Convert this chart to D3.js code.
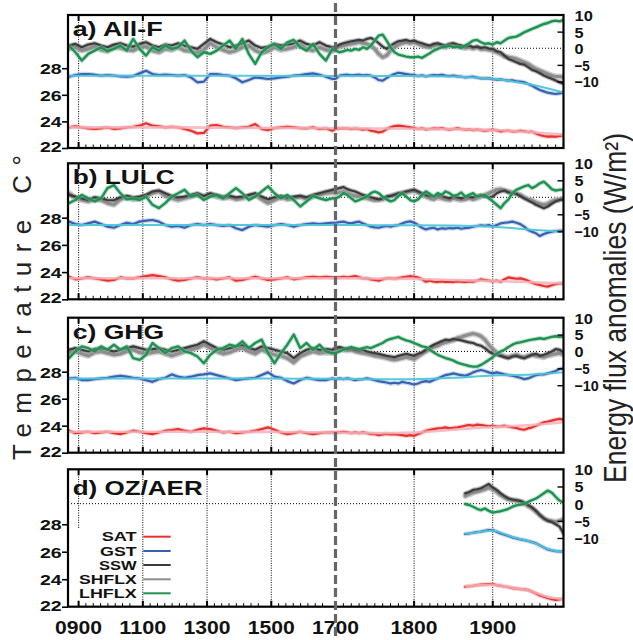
<!DOCTYPE html>
<html><head><meta charset="utf-8">
<script src="https://cdn.jsdelivr.net/npm/d3@7"></script>
<style>body{margin:0;background:#fff}svg{display:block}text{font-family:"Liberation Sans",Arial,Helvetica,sans-serif}</style>
</head><body>
<svg id="chart" width="633" height="640"></svg>
<script>
// ---------------- DATA ----------------
const yearsEarly = d3.range(870, 1700, 20);   // 870..1690
const yearsLate = d3.range(1700, 1995, 5);    // 1700..1990
const yearsFull = yearsEarly.concat(yearsLate);
const yearsOz = d3.range(1865, 1995, 5);      // 1865..1990
const smoothYears = [870, 1000, 1200, 1400, 1600, 1700, 1750, 1800, 1850, 1900, 1950, 1990];
const smoothYearsOz = [1865, 1885, 1900, 1915, 1930, 1950, 1970, 1990];

const panelLabels = ["a) All-F", "b) LULC", "c) GHG", "d) OZ/AER"];
const legendNames = ["SAT", "GST", "SSW", "SHFLX", "LHFLX"];
const xTickYears = [900, 1100, 1300, 1500, 1700, 1800, 1900];
const xTickLabels = ["0900", "1100", "1300", "1500", "1700", "1800", "1900"];
const gridYears = [900, 1100, 1300, 1500, 1800, 1900];
const tempTicks = [28, 26, 24, 22];
const fluxTicks = [10, 5, 0, -5, -10];

// a) All-F
const satA = [23.55,23.63,23.55,23.48,23.43,23.48,23.55,23.43,23.48,23.55,23.60,23.68,23.86,23.68,23.63,23.55,23.60,23.55,23.43,23.30,23.10,23.13,23.68,23.73,23.60,23.55,23.50,23.55,23.60,23.80,23.43,23.35,23.50,23.55,23.60,23.55,23.50,23.48,23.55,23.43,23.48,23.30,
 23.43,23.48,23.50,23.48,23.43,23.48,23.43,23.38,23.43,23.30,23.25,23.18,23.23,23.43,23.55,23.65,23.68,23.65,23.60,23.55,23.50,23.43,23.48,23.40,23.43,23.48,23.45,23.50,23.43,23.38,23.43,23.48,23.43,23.38,23.40,23.35,23.38,23.35,23.30,23.35,23.38,23.33,23.25,23.28,23.30,23.25,23.25,23.30,23.25,23.20,23.23,23.10,22.98,22.90,22.85,22.88,22.85,22.90,22.95];
const gstA = [27.36,27.49,27.56,27.56,27.51,27.44,27.49,27.44,27.39,27.36,27.41,27.61,27.81,27.56,27.49,27.51,27.49,27.44,27.49,27.31,26.94,26.99,27.56,27.56,27.49,27.44,27.24,26.94,27.11,27.31,27.26,27.19,27.24,27.31,27.36,27.44,27.49,27.56,27.61,27.51,27.36,27.19,
 27.19,27.44,27.49,27.51,27.46,27.49,27.51,27.46,27.49,27.44,27.31,27.11,27.06,27.26,27.44,27.56,27.66,27.61,27.56,27.51,27.49,27.41,27.46,27.39,27.44,27.49,27.46,27.51,27.44,27.41,27.44,27.39,27.36,27.31,27.34,27.36,27.29,27.24,27.26,27.24,27.19,27.14,27.16,27.11,27.06,27.09,27.01,26.99,26.94,26.81,26.69,26.51,26.36,26.26,26.16,26.11,26.06,26.11,26.16];
const sswA = [0.8,1.3,0.3,1.1,1.5,0.8,0.3,1.1,1.5,0.8,0.5,1.3,1.8,0.8,0.3,1.1,0.8,1.5,0.8,0.3,-0.2,1.3,2.8,1.8,1.1,0.3,0.8,1.5,2.3,0.8,0.1,0.5,1.3,0.8,1.1,1.5,2.3,1.3,0.8,1.8,0.8,0.3,
 0.3,1.1,1.5,1.8,2.1,2.3,2.5,2.3,2.8,3.1,2.5,1.5,0.5,-0.2,0.8,1.5,2.1,2.3,2.5,2.1,2.3,1.8,1.5,1.1,0.8,1.3,1.5,1.1,0.8,1.3,1.5,1.1,0.8,0.5,0.8,0.3,0.5,0.1,0.3,-0.1,-0.2,-0.9,-1.2,-2.2,-3.2,-3.7,-4.2,-4.7,-4.9,-5.7,-6.5,-6.9,-7.5,-8.2,-8.7,-9.2,-9.7,-10.2,-10.7];
const shfA = [-0.2,0.3,-0.7,-0.2,0.5,-0.5,-0.9,0.3,0.1,-0.5,-0.7,0.3,0.5,-0.7,-1.2,-0.2,-0.5,0.3,-0.7,-0.9,-1.5,-0.5,1.5,0.3,-0.5,-1.2,-0.7,0.3,0.8,-0.7,-1.5,-0.9,0.3,-0.5,-0.2,0.3,1.1,-0.2,-0.7,0.3,-0.5,-0.9,
 -0.2,0.5,0.8,1.1,1.3,1.5,1.8,1.5,1.3,0.8,-0.2,-1.7,-2.7,-2.2,-0.7,0.3,1.1,1.5,1.8,1.5,1.8,1.3,0.8,0.5,0.3,0.8,1.1,0.5,0.3,0.8,1.1,0.5,0.3,0.1,0.3,-0.1,0.3,-0.3,-0.2,-0.5,-0.7,-1.2,-1.7,-2.5,-2.7,-2.9,-3.2,-3.7,-4.2,-4.7,-5.5,-6.2,-6.7,-7.2,-7.7,-8.2,-8.5,-8.5,-8.7];
const lhfA = [0.8,-1.2,-3.7,-1.7,-0.7,0.3,-0.9,-0.2,0.8,-0.7,2.8,-0.2,-2.2,0.3,-0.7,0.8,-0.2,0.3,2.3,-0.7,-2.7,-1.2,-1.7,-0.7,0.8,2.3,-0.2,2.8,-1.7,-4.7,-1.2,0.3,1.3,-0.2,1.8,2.5,0.3,-0.7,1.3,-1.7,-3.7,-0.2,
 -0.7,-1.2,-0.9,-0.5,-0.7,-0.2,-0.5,0.3,-0.2,0.8,2.3,3.8,4.1,2.3,0.3,-1.2,-1.9,-2.2,-2.5,-2.7,-2.7,-2.5,-2.9,-2.2,-1.5,-0.7,-0.2,0.3,0.5,0.8,0.3,0.5,0.1,0.8,1.5,2.3,2.5,1.8,1.3,1.5,1.1,1.8,1.5,2.3,3.1,3.3,3.5,4.1,4.8,5.3,5.8,6.3,6.8,7.3,7.6,8.1,8.3,8.1,8.5];
const satSmoothA = [23.55,23.55,23.55,23.52,23.50,23.48,23.47,23.45,23.42,23.35,23.18,23.00];
const gstSmoothA = [27.44,27.44,27.44,27.43,27.42,27.42,27.42,27.42,27.38,27.20,26.75,26.17];

// b) LULC
const satB = [23.66,23.47,23.54,23.61,23.54,23.47,23.37,23.42,23.61,23.54,23.54,23.61,23.71,23.78,23.71,23.61,23.47,23.37,23.42,23.54,23.61,23.54,23.54,23.47,23.54,23.61,23.37,23.42,23.54,23.66,23.54,23.42,23.47,23.54,23.61,23.47,23.54,23.61,23.66,23.61,23.66,23.61,
 23.61,23.61,23.66,23.61,23.66,23.71,23.61,23.54,23.54,23.47,23.42,23.37,23.47,23.54,23.54,23.51,23.56,23.61,23.66,23.71,23.66,23.61,23.47,23.29,23.37,23.29,23.27,23.32,23.27,23.29,23.27,23.32,23.29,23.27,23.32,23.29,23.37,23.47,23.42,23.37,23.32,23.37,23.29,23.47,23.61,23.56,23.51,23.54,23.47,23.37,23.22,23.12,23.05,22.98,22.93,23.03,23.12,23.17,23.17];
const gstB = [27.71,27.53,27.46,27.58,27.71,27.53,27.34,27.26,27.46,27.63,27.53,27.71,27.78,27.83,27.71,27.46,27.34,27.39,27.26,27.46,27.53,27.46,27.53,27.46,27.39,27.46,27.22,27.09,27.34,27.46,27.39,27.34,27.46,27.53,27.46,27.34,27.46,27.53,27.58,27.53,27.58,27.63,
 27.63,27.68,27.71,27.63,27.58,27.66,27.71,27.58,27.46,27.34,27.29,27.26,27.34,27.39,27.34,27.41,27.46,27.58,27.68,27.73,27.63,27.46,27.26,27.14,27.22,27.26,27.14,27.22,27.19,27.24,27.22,27.26,27.19,27.24,27.26,27.34,27.39,27.44,27.41,27.46,27.34,27.46,27.58,27.63,27.66,27.71,27.63,27.53,27.34,27.09,26.97,26.85,26.65,26.80,26.90,26.97,27.02,27.04,27.04];
const sswB = [0.7,0.2,-0.3,-0.8,0.0,-0.3,-0.8,-0.9,0.0,0.4,0.0,0.2,0.7,1.7,2.0,1.2,0.4,0.0,0.2,0.7,1.2,0.4,1.2,0.7,0.2,0.4,0.0,0.2,0.7,1.2,0.2,-0.6,0.0,0.4,0.0,0.2,0.4,0.0,0.7,1.2,1.7,2.2,
 2.4,2.7,3.0,2.4,2.0,1.7,1.2,0.7,0.4,0.0,-0.3,-0.6,-0.3,0.2,0.4,0.7,1.2,1.4,1.7,2.0,2.2,1.7,1.2,0.7,0.4,0.2,0.7,0.4,0.0,-0.3,0.2,0.0,-0.3,0.0,0.2,0.0,0.4,0.7,0.2,0.0,0.2,1.2,1.7,2.0,1.4,1.2,1.0,0.4,-0.3,-0.9,-1.5,-2.2,-2.7,-3.2,-2.7,-1.9,-1.2,-0.8,-0.6];
const shfB = [1.2,-0.3,-0.8,-1.2,-0.6,-0.9,-1.7,-2.2,-0.6,0.0,-0.6,-0.3,0.4,1.2,1.7,0.4,-0.3,-0.8,-0.3,0.2,0.7,0.0,0.7,0.2,-0.3,0.0,-0.6,-0.3,0.2,0.7,-0.6,-1.7,-0.8,0.0,-0.6,-0.3,0.2,-0.6,0.2,0.7,1.2,1.4,
 1.2,1.4,1.7,1.2,0.7,0.4,0.2,0.0,-0.3,-0.6,-0.9,-0.8,-0.6,0.0,0.4,0.7,1.0,1.2,1.4,1.7,2.0,1.4,0.7,0.2,-0.3,-0.6,0.0,-0.3,-0.6,-0.8,-0.3,-0.6,-0.8,-0.6,-0.3,-0.6,-0.3,0.2,0.7,1.2,1.7,2.2,2.4,2.0,1.7,1.4,1.2,0.7,0.0,-0.6,-0.9,-1.5,-1.9,-2.2,-1.9,-1.2,-0.8,-0.6,-0.3];
const lhfB = [-1.7,-0.8,0.7,-0.3,-1.2,-0.3,2.7,3.6,1.2,-0.6,-0.3,-0.8,0.2,-2.2,-3.2,-1.7,0.2,1.2,2.2,0.2,0.7,-0.8,0.2,0.7,-0.3,1.2,2.7,1.2,-0.8,0.2,1.7,3.2,1.2,-0.3,0.7,-0.8,-2.7,-1.2,0.4,-0.3,-0.8,-0.3,
 -0.3,0.2,1.2,0.7,-0.3,-1.2,-0.8,-0.3,0.2,1.2,1.7,1.2,0.2,-0.6,-1.2,-0.8,0.4,1.2,0.2,-0.8,-1.2,-0.6,0.7,1.7,1.0,0.2,1.2,0.7,1.7,1.2,0.4,0.7,1.4,0.2,0.7,1.2,0.2,0.4,0.7,-0.3,-1.2,-2.2,-3.2,-1.7,-0.6,1.2,2.2,2.7,3.2,3.6,2.7,3.3,4.1,4.6,3.6,2.4,2.0,2.2,2.2];
const satSmoothB = [23.55,23.55,23.55,23.55,23.55,23.55,23.53,23.50,23.42,23.35,23.25,23.18];
const gstSmoothB = [27.47,27.47,27.47,27.47,27.46,27.46,27.45,27.44,27.42,27.33,27.12,26.97];

// c) GHG
const satC = [23.63,23.45,23.50,23.55,23.45,23.50,23.55,23.45,23.38,23.50,23.63,23.55,23.45,23.38,23.50,23.63,23.68,23.75,23.63,23.55,23.70,23.80,23.75,23.63,23.50,23.55,23.45,23.50,23.55,23.63,23.75,23.88,23.70,23.50,23.38,23.45,23.55,23.45,23.38,23.45,23.50,23.50,
 23.50,23.50,23.55,23.50,23.45,23.50,23.45,23.50,23.45,23.38,23.38,23.30,23.35,23.40,23.35,23.38,23.33,23.30,23.25,23.30,23.25,23.38,23.50,23.63,23.70,23.75,23.80,23.83,23.88,23.80,23.85,23.88,23.93,24.00,24.05,24.00,24.08,24.05,24.00,23.95,24.00,23.93,23.95,24.00,23.93,23.88,23.83,23.75,23.70,23.80,23.88,24.00,24.13,24.25,24.30,24.38,24.45,24.50,24.45];
const gstC = [27.50,27.55,27.38,27.38,27.45,27.50,27.55,27.63,27.70,27.63,27.55,27.50,27.38,27.25,27.45,27.55,27.80,27.63,27.55,27.63,27.75,27.80,27.88,27.75,27.63,27.50,27.38,27.45,27.50,27.55,27.75,27.95,27.63,27.55,27.30,27.13,27.38,27.55,27.45,27.38,27.38,27.50,
 27.45,27.50,27.45,27.50,27.45,27.38,27.43,27.45,27.50,27.45,27.38,27.30,27.25,27.20,27.13,27.18,27.13,27.25,27.18,27.13,27.05,27.13,27.25,27.30,27.25,27.38,27.50,27.63,27.75,27.80,27.88,27.80,27.75,27.70,27.80,27.95,28.05,28.13,28.05,27.95,27.88,27.95,27.88,27.80,27.75,27.70,27.63,27.55,27.45,27.50,27.63,27.75,27.80,27.80,27.88,27.95,28.05,28.20,28.25];
const sswC = [0.5,1.0,0.5,0.0,0.7,1.0,0.5,0.0,0.5,1.0,1.5,1.0,0.5,0.7,1.0,0.5,0.0,0.5,1.0,1.5,2.0,3.0,2.0,1.0,0.5,1.0,1.5,2.0,1.0,0.5,1.5,1.0,0.5,0.0,-0.5,-2.0,-0.5,0.5,1.0,0.5,0.7,0.5,
 1.0,1.3,1.0,0.7,1.0,0.5,0.3,0.5,0.0,-0.3,-0.5,-0.7,-1.0,-1.3,-1.5,-1.7,-1.3,-1.0,-0.7,-1.0,-1.3,-0.7,-0.3,0.5,1.3,2.0,2.5,3.0,3.5,3.3,3.7,3.5,3.3,3.0,2.7,2.5,2.0,1.7,1.0,0.0,-0.7,-1.0,-1.3,-1.7,-2.0,-1.5,-1.3,-1.7,-2.0,-1.5,-1.0,-0.7,-1.3,-1.0,-0.5,0.0,0.7,0.5,-0.3];
const shfC = [-0.5,0.0,-0.7,-1.3,-0.3,0.0,-0.5,-1.0,-0.7,0.0,0.5,-0.3,-0.7,-0.3,0.0,-0.7,-1.3,-0.7,0.0,0.5,1.0,2.0,1.0,0.0,-0.7,-0.3,0.5,1.0,0.0,-0.7,0.5,-0.3,-1.0,-1.3,-2.0,-3.3,-1.5,-0.7,0.0,-0.5,-0.3,-0.5,
 0.5,0.7,0.5,0.3,0.5,0.0,-0.3,-0.5,-0.7,-1.0,-1.3,-1.5,-1.7,-2.0,-2.3,-2.5,-2.3,-2.0,-1.7,-2.0,-2.3,-1.5,-0.7,0.0,0.7,1.3,1.7,2.3,2.7,3.0,3.3,4.0,4.3,4.7,5.0,5.3,5.0,4.5,3.5,2.0,0.7,-0.3,-1.0,-1.5,-1.7,-1.3,-1.0,-1.5,-1.7,-1.3,-1.0,-1.3,-1.5,-1.7,-1.3,-1.0,-0.7,-0.5,-1.0];
const lhfC = [-2.0,0.0,1.5,1.0,0.0,1.5,0.5,2.0,0.5,1.5,-2.0,-2.5,-1.0,2.5,1.0,-0.5,1.0,1.5,0.0,-0.5,-1.5,-3.5,-1.0,0.5,1.0,2.0,1.5,3.0,1.0,2.5,3.5,-0.5,-3.5,-0.5,2.0,5.0,1.0,2.5,0.5,2.0,0.0,-0.5,
 -0.5,0.0,0.5,1.0,1.3,1.0,0.7,1.0,1.3,1.0,1.5,2.0,2.5,3.3,3.7,4.0,4.3,3.7,3.3,3.0,2.5,2.0,1.5,1.3,0.5,-0.3,-1.0,-1.5,-2.0,-2.3,-2.7,-3.3,-3.7,-4.0,-4.3,-4.5,-4.5,-4.0,-3.3,-2.5,-1.7,-0.7,0.0,0.5,1.3,2.0,2.5,2.7,3.0,3.3,3.5,3.7,3.9,3.7,4.0,4.3,4.5,4.3,4.5];
const satSmoothC = [23.55,23.55,23.55,23.55,23.52,23.50,23.45,23.50,23.70,23.90,24.05,24.25];
const gstSmoothC = [27.50,27.50,27.50,27.50,27.48,27.48,27.45,27.45,27.55,27.72,27.80,27.95];

// d) OZ/AER
const satD = [23.45,23.50,23.52,23.57,23.60,23.62,23.64,23.64,23.57,23.52,23.47,23.43,23.35,23.33,23.28,23.26,23.21,23.09,22.96,22.82,22.72,22.63,22.55,22.50,22.53,22.58];
const gstD = [27.29,27.33,27.38,27.43,27.46,27.53,27.58,27.58,27.46,27.33,27.24,27.14,27.04,26.97,26.90,26.85,26.78,26.70,26.61,26.46,26.31,26.17,26.10,26.05,26.02,26.00];
const sswD = [3.0,3.4,4.0,4.2,4.5,5.1,5.7,4.7,4.0,3.0,2.2,1.5,1.2,1.0,0.8,0.3,-0.4,-1.1,-2.1,-3.3,-4.3,-5.0,-5.3,-6.0,-6.7,-8.7];
const shfD = [2.2,2.7,3.2,3.5,3.8,4.2,4.7,4.2,3.4,2.5,1.8,1.2,1.0,0.9,0.5,0.1,-0.7,-1.4,-2.3,-3.4,-4.3,-4.8,-5.1,-5.3,-5.0,-4.6];
const lhfD = [-0.1,-0.4,-0.9,-1.5,-1.9,-1.4,-2.1,-2.6,-2.4,-2.2,-1.9,-1.5,-0.9,-0.5,-0.3,-0.1,0.5,1.0,1.5,2.2,3.0,3.8,3.2,2.0,0.9,0.3];
const satSmoothD = [23.47,23.57,23.60,23.48,23.35,23.10,22.72,22.55];
const gstSmoothD = [27.30,27.45,27.55,27.28,27.00,26.70,26.20,25.97];

// ---------------- LAYOUT / STYLE ----------------
const colors = {sat:"#e8302c", satHalo:"#f6a3a3", satSmooth:"#f5b0b8",
  gst:"#3562b2", gstHalo:"#9bb2dc", gstSmooth:"#4cc6da",
  ssw:"#3b3b3b", sswHalo:"#6f6f6f", shf:"#8e8e8e", shfHalo:"#b9b9b9",
  lhf:"#1f9152", lhfHalo:"#86c9a2"};
const legendColors = [colors.sat, colors.gst, colors.ssw, colors.shf, colors.lhf];

const panels = [
  {label: panelLabels[0], top: 15, bottom: 148, labelY: 36, labelW: 90,
   years: yearsFull, sat: satA, gst: gstA, ssw: sswA, shf: shfA, lhf: lhfA,
   sYears: smoothYears, satS: satSmoothA, gstS: gstSmoothA},
  {label: panelLabels[1], top: 163.3, bottom: 299.3, labelY: 184, labelW: 102,
   years: yearsFull, sat: satB, gst: gstB, ssw: sswB, shf: shfB, lhf: lhfB,
   sYears: smoothYears, satS: satSmoothB, gstS: gstSmoothB},
  {label: panelLabels[2], top: 317.7, bottom: 452.7, labelY: 338.7, labelW: 91.5,
   years: yearsFull, sat: satC, gst: gstC, ssw: sswC, shf: shfC, lhf: lhfC,
   sYears: smoothYears, satS: satSmoothC, gstS: gstSmoothC},
  {label: panelLabels[3], top: 469.3, bottom: 606.7, labelY: 495, labelW: 130,
   years: yearsOz, sat: satD, gst: gstD, ssw: sswD, shf: shfD, lhf: lhfD,
   sYears: smoothYearsOz, satS: satSmoothD, gstS: gstSmoothD, legend: true}
];

const X0 = 68, X1 = 563.5;
const x = d3.scaleLinear().domain([867, 1700, 1990]).range([X0, 335.5, X1]);

const svg = d3.select("#chart");
const minorEarly = [];
[900, 1100, 1300, 1500].forEach(m => { for (let k = 1; k <= 7; k++) minorEarly.push(m + k * 22.8); });
const minorLate = d3.range(1710, 1991, 10).filter(v => v !== 1800 && v !== 1900);
const minorTicks = minorEarly.concat(minorLate);

function seriesPath(g, yrs, vals, yScale, color, w, halo, haloW, haloOp) {
  const line = d3.line().x((d, i) => x(yrs[i])).y(d => yScale(d));
  if (halo) g.append("path").datum(vals).attr("d", line).attr("fill", "none")
      .attr("stroke", halo).attr("stroke-width", haloW).attr("stroke-opacity", haloOp)
      .attr("stroke-linejoin", "round").attr("stroke-linecap", "round");
  g.append("path").datum(vals).attr("d", line).attr("fill", "none")
    .attr("stroke", color).attr("stroke-width", w).attr("stroke-linejoin", "round").attr("stroke-linecap", "round");
}
function smoothPath(g, yrs, vals, yScale, color, w, op) {
  const line = d3.line().x((d, i) => x(yrs[i])).y(d => yScale(d)).curve(d3.curveMonotoneX);
  g.append("path").datum(vals).attr("d", line).attr("fill", "none")
    .attr("stroke", color).attr("stroke-width", w).attr("stroke-opacity", op);
}

panels.forEach((p, pi) => {
  const yT = d3.scaleLinear().domain([22, 32]).range([p.bottom, p.top]);
  const yF = d3.scaleLinear().domain([-30, 10]).range([p.bottom, p.top]);
  const g = svg.append("g");
  const clipId = "clip" + pi;
  g.append("clipPath").attr("id", clipId).append("rect")
    .attr("x", X0).attr("y", p.top).attr("width", X1 - X0).attr("height", p.bottom - p.top);

  // grid
  g.selectAll(".vg").data(gridYears).enter().append("line")
    .attr("x1", d => x(d)).attr("x2", d => x(d)).attr("y1", p.top).attr("y2", p.bottom)
    .attr("stroke", "#000").attr("stroke-width", 1).attr("stroke-dasharray", "1,1.4");
  g.append("line").attr("x1", X0).attr("x2", X1).attr("y1", yF(0)).attr("y2", yF(0))
    .attr("stroke", "#000").attr("stroke-width", 1).attr("stroke-dasharray", "1,2");

  // data
  const dg = g.append("g").attr("clip-path", `url(#${clipId})`);
  seriesPath(dg, p.years, p.shf, yF, colors.shf, 3.2, colors.shfHalo, 6, 0.7);
  seriesPath(dg, p.years, p.ssw, yF, colors.ssw, 2.2, colors.sswHalo, 4.5, 0.45);
  seriesPath(dg, p.years, p.lhf, yF, colors.lhf, 2.4, colors.lhfHalo, 4.5, 0.5);
  seriesPath(dg, p.years, p.gst, yT, colors.gst, 2.2, colors.gstHalo, 4.5, 0.5);
  smoothPath(dg, p.sYears, p.gstS, yT, colors.gstSmooth, 2, 0.95);
  seriesPath(dg, p.years, p.sat, yT, colors.sat, 2.2, colors.satHalo, 4.5, 0.5);
  smoothPath(dg, p.sYears, p.satS, yT, colors.satSmooth, 2.6, 0.85);

  // legend
  if (p.legend) {
    g.append("rect").attr("x", 72).attr("y", 528).attr("width", 70).attr("height", 72).attr("fill", "#fff");
    const rowY = [536.7, 551, 565, 579.3, 593.3];
    const lw = [35, 36.7, 37.7, 57.7, 57.7];
    legendNames.forEach((n, i) => {
      g.append("text").attr("x", 136.7).attr("y", rowY[i] + 4.6).attr("text-anchor", "end")
        .attr("font-size", 12.5).attr("font-weight", "bold").attr("fill", "#111")
        .attr("textLength", lw[i]).attr("lengthAdjust", "spacingAndGlyphs").text(n);
      g.append("line").attr("x1", 143.3).attr("x2", 170.7).attr("y1", rowY[i]).attr("y2", rowY[i])
        .attr("stroke", legendColors[i]).attr("stroke-width", 2);
    });
  }

  // ticks: major (top & bottom), minor bottom
  g.selectAll(".mj").data(gridYears).enter().append("path")
    .attr("d", d => `M${x(d)},${p.bottom}v-6M${x(d)},${p.top}v6`)
    .attr("stroke", "#000").attr("stroke-width", 2);
  g.selectAll(".mn").data(minorTicks).enter().append("line")
    .attr("x1", d => x(d)).attr("x2", d => x(d)).attr("y1", p.bottom).attr("y2", p.bottom - 3.5)
    .attr("stroke", "#000").attr("stroke-width", 1);

  // left axis
  const la = g.append("g").attr("transform", `translate(${X0},0)`)
    .call(d3.axisLeft(yT).tickValues(tempTicks).tickSize(6).tickPadding(5).tickFormat(d3.format("d")));
  la.select(".domain").remove();
  la.selectAll(".tick line").attr("stroke-width", 1.6);
  la.selectAll(".tick text").attr("font-size", 15).attr("font-weight", "bold").attr("fill", "#111")
    .attr("font-family", null).attr("x", -6.3).attr("dy", "0.36em")
    .attr("textLength", 21.7).attr("lengthAdjust", "spacingAndGlyphs")
    .attr("transform", d => d === 22 ? "translate(0,-2)" : null);

  // right axis (flux)
  const ra = g.append("g").attr("transform", `translate(${X1},0)`)
    .call(d3.axisRight(yF).tickValues(fluxTicks).tickSize(-6).tickPadding(11).tickFormat(d3.format("d")));
  ra.select(".domain").remove();
  ra.selectAll(".tick line").attr("stroke-width", 1.4).attr("display", d => (d === 0 || d === 10) ? "none" : null);
  ra.selectAll(".tick text").attr("font-size", 15).attr("font-weight", "bold").attr("fill", "#111")
    .attr("font-family", null).attr("dy", "0.36em")
    .attr("textLength", d => ({10: 18.3, 5: 9, 0: 9, "-5": 15.3, "-10": 24.3})[d])
    .attr("lengthAdjust", "spacingAndGlyphs");

  // frame
  g.append("rect").attr("x", X0).attr("y", p.top).attr("width", X1 - X0).attr("height", p.bottom - p.top)
    .attr("fill", "none").attr("stroke", "#000").attr("stroke-width", 2.2);

  // panel label
  g.append("text").attr("x", 72.7).attr("y", p.labelY).attr("font-size", 21).attr("font-weight", "bold")
    .attr("fill", "#111").attr("textLength", p.labelW).attr("lengthAdjust", "spacingAndGlyphs").text(p.label);
});

// x labels
svg.selectAll(".xl").data(xTickYears).enter().append("text")
  .attr("x", d => x(d)).attr("y", 634).attr("text-anchor", "middle")
  .attr("font-size", 18).attr("font-weight", "bold").attr("fill", "#111")
  .attr("textLength", 47).attr("lengthAdjust", "spacingAndGlyphs")
  .text((d, i) => xTickLabels[i]);

// 1700 divider
svg.append("line").attr("x1", x(1700)).attr("x2", x(1700)).attr("y1", 3).attr("y2", 637)
  .attr("stroke", "#666").attr("stroke-width", 3.2).attr("stroke-dasharray", "9,4");

// axis titles
svg.append("text").attr("transform", "translate(31,307.5) rotate(-90)").attr("text-anchor", "middle")
  .attr("font-size", 26).attr("fill", "#222").attr("textLength", 305).attr("lengthAdjust", "spacing")
  .text("Temperature C°");
svg.append("text").attr("transform", "translate(626,308) scale(1.25,1) rotate(-90)").attr("text-anchor", "middle")
  .attr("font-size", 25).attr("fill", "#222").attr("textLength", 350).attr("lengthAdjust", "spacingAndGlyphs")
  .text("Energy flux anomalies (W/m²)");
</script>
</body></html>
